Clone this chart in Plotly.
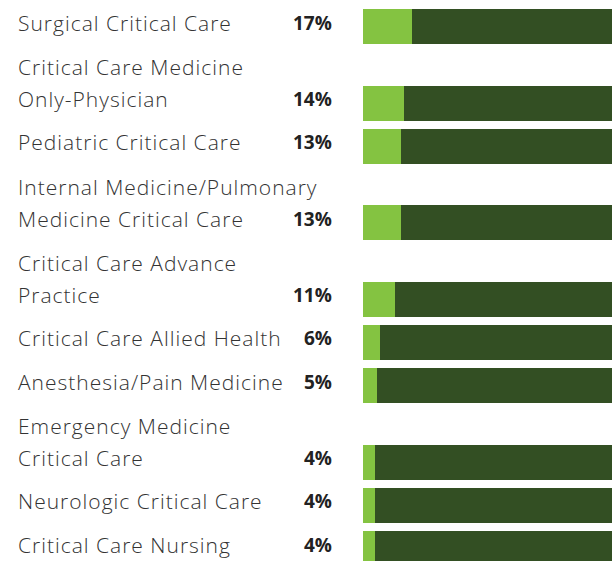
import plotly.graph_objects as go

categories = [
    "Surgical Critical Care",
    "Critical Care Medicine<br>Only-Physician",
    "Pediatric Critical Care",
    "Internal Medicine/Pulmonary<br>Medicine Critical Care",
    "Critical Care Advance<br>Practice",
    "Critical Care Allied Health",
    "Anesthesia/Pain Medicine",
    "Emergency Medicine<br>Critical Care",
    "Neurologic Critical Care",
    "Critical Care Nursing",
]
percent = [17, 14, 13, 13, 11, 6, 5, 4, 4, 4]
pct_labels = ["17%", "14%", "13%", "13%", "11%", "6%", "5%", "4%", "4%", "4%"]
remainder = [100 - v for v in percent]

LIGHT = "#84C341"
DARK = "#334F23"
W, H = 612, 561
STEP_PX = 43.2        # height of a one-line row
EXTRA_PX = 33.3       # extra height for each extra label line
LINE_PX = 32          # label line spacing
BAR_PX = 35
TOP_PX = 26.5         # centre of first bar from top

# row centres in "row units", derived from label line counts
extra = EXTRA_PX / STEP_PX
ypos = []
acc = 0.0
for i, c in enumerate(categories):
    n = len(c.split("<br>"))
    if i > 0:
        acc += 1 + extra * (n - 1)
    ypos.append(acc)

y_top = -TOP_PX / STEP_PX
y_bot = y_top + H / STEP_PX

fig = go.Figure()
fig.add_trace(go.Bar(y=ypos, x=percent, orientation="h", marker=dict(color=LIGHT, line=dict(width=0)),
                     width=BAR_PX / STEP_PX, showlegend=False, hoverinfo="skip"))
fig.add_trace(go.Bar(y=ypos, x=remainder, orientation="h", marker=dict(color=DARK, line=dict(width=0)),
                     width=BAR_PX / STEP_PX, showlegend=False, hoverinfo="skip"))

FONT = "Open Sans, sans-serif"
for c, p, y in zip(categories, pct_labels, ypos):
    lines = c.split("<br>")
    n = len(lines)
    for k, line in enumerate(lines):
        fig.add_annotation(x=16 / W, xref="paper", y=y, yref="y", xanchor="left", yanchor="middle",
                           align="left", yshift=LINE_PX * (n - 1 - k) + 4, text=line, showarrow=False,
                           font=dict(family=FONT, size=21, color="#333333", weight=300))
    fig.add_annotation(x=334 / W, xref="paper", y=y, yref="y", xanchor="right", yanchor="middle",
                       align="right", yshift=4, text=p, showarrow=False,
                       font=dict(family=FONT, size=19, color="#222222", weight=700))

fig.update_layout(
    width=W, height=H, barmode="stack", bargap=0,
    margin=dict(l=0, r=0, t=0, b=0),
    paper_bgcolor="white", plot_bgcolor="white",
    xaxis=dict(domain=[363 / W, 1], range=[0, 86], visible=False, fixedrange=True),
    yaxis=dict(range=[y_bot, y_top], visible=False, fixedrange=True),
)
post = (
    "document.body.style.margin='0';document.body.style.overflow='hidden';"
    "document.querySelectorAll('.annotation-text').forEach(function(e){"
    "if(e.textContent.indexOf('%')<0){e.style.letterSpacing='1px';}});"
)
fig.write_html("out.html", config={"displayModeBar": False}, post_script=post)
